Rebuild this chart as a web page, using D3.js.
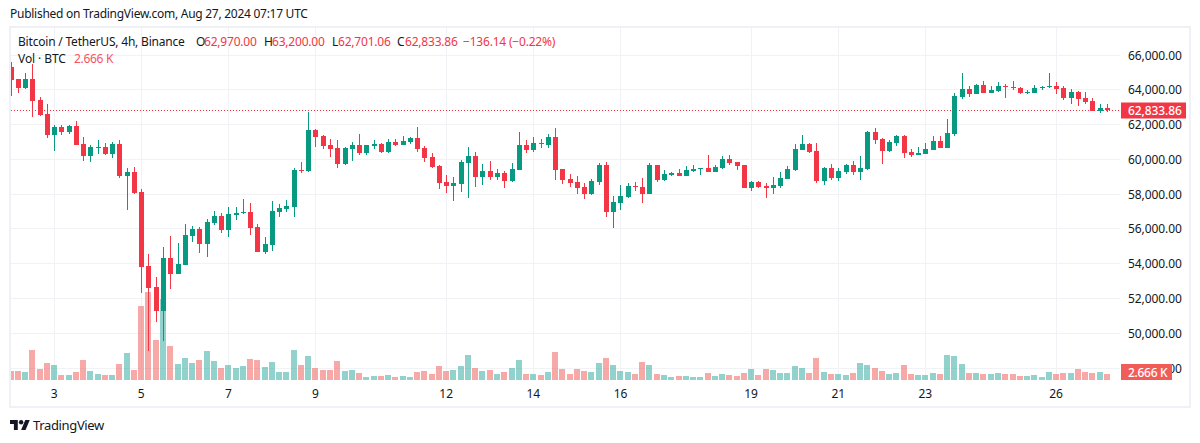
<!DOCTYPE html>
<html>
<head>
<meta charset="utf-8">
<script src="https://cdn.jsdelivr.net/npm/d3@7"></script>
<style>
html,body{margin:0;padding:0;background:#fff;overflow:hidden}
svg{display:block}
text{font-family:"Noto Sans",sans-serif;fill:#131722;font-size:12px;letter-spacing:-0.08px}
</style>
</head>
<body>
<svg id="chart" width="1200" height="443"></svg>
<script>
const highs=[65617,64621,64947,65483,63567,63184,
61958,61958,61977,62207,61268,60827,61115,60923,61000,61115,
59505,59563,58298,54562,53240,54964,55597,55194,56286,56171,
56114,56574,57034,56919,57264,57264,57723,57494,56287,55539,
57608,57436,57666,59505,59850,62724,61747,61402,61172,61115,
60712,61000,61460,60827,61115,60942,61172,61172,61345,61287,
61862,60770,60367,59678,59103,58988,59965,60712,60425,59735,
59908,59448,59333,59793,61574,61115,61287,61172,61460,61804,
59448,59160,59046,58644,58873,59793,59851,57896,58529,58644,
58701,58931,59793,59678,59391,59276,59448,59621,59678,59506,
60253,59678,60195,60253,59851,59678,58759,58759,58643,58988,
59275,59620,60885,61402,60942,60942,59563,59735,59505,59735,
59908,60195,61632,61804,61230,61115,61402,61402,60597,60712,
60942,61345,61345,62322,63816,64966,64219,64333,64506,64219,
64448,64333,64506,64161,63989,64276,64219,64966,64448,64219,
64046,63931,63874,63529,63184,63200];
const lows=[63644,63835,64046,62456,62494,61230,
60501,61421,61479,60827,59908,59869,60310,60252,60099,58930,
57091,58011,52320,48986,50653,49561,52550,53413,53930,55252,
54620,54390,56229,55769,55539,56516,56861,55654,54677,54562,
54735,56689,56976,56689,59218,59275,60712,60597,60138,59505,
59678,59908,60253,60253,60597,60368,60368,60770,60827,60885,
60425,59850,59505,58298,58068,57608,58126,57781,58413,58528,
58815,58815,58356,58700,59390,60367,60425,60655,60655,58815,
58586,58413,58011,57724,57954,58529,56689,56057,57092,57781,
58184,57494,58011,58701,58758,59046,59046,59046,59276,59103,
59276,59276,59448,59678,59391,58356,58184,58356,57781,58011,
58356,58873,59333,60540,60367,58643,58528,58815,58758,59160,
59103,58815,59390,60885,59735,60425,60770,60080,60137,60252,
60310,60540,60655,60655,61345,63471,63586,63759,63816,63816,
63874,63529,63989,63759,63759,63816,63989,64104,63759,63414,
63184,63069,63184,62781,62666,62701.06];
const opens=[65330,64621,64123,64621,63414,62609,
61421,61862,61574,61919,60885,60195,60655,60712,60310,60885,
59045,59275,58126,53872,52665,51285,54332,53413,53930,55597,
55999,55137,56344,56746,55942,56804,56919,56976,56114,54677,
55079,56976,57149,57264,59390,59333,61690,61345,60827,60655,
59735,60597,60827,60368,60770,60885,60425,61000,60827,61000,
61230,60655,60137,59620,58700,58470,58586,59793,60195,58988,
59333,58988,59218,58758,59390,60827,60540,60942,60827,61287,
59448,58873,58701,58414,58011,58701,59678,56977,57494,57839,
58471,58414,58011,59678,58816,59103,59218,59046,59333,59448,
59506,59276,59506,60023,59851,59678,58356,58701,58470,58356,
58470,58873,59390,60540,60885,60482,58758,59505,58930,59275,
59678,59275,59448,61574,61172,60482,60942,61345,60425,60252,
60310,60540,61057,60655,61460,63586,64046,63759,64276,63816,
63931,64219,64161,64104,63816,63816,64104,64161,64219,64104,
63529,63874,63529,63356,62781,62970];
const closes=[64563,64123,64621,63376,62552,61421,
61862,61574,61919,60827,60195,60712,60712,60310,60885,59045,
59275,58068,53815,52608,51285,54332,53413,53987,55654,55999,
55137,56402,56746,55942,56861,56919,56976,56057,54677,55137,
57034,57206,57321,59390,59333,61690,61287,60770,60597,59735,
60655,60827,60368,60827,60885,60425,61000,60827,61057,61230,
60597,60080,59563,58643,58470,58643,59850,60195,58988,59333,
58988,59218,58758,59448,60827,60540,60942,60885,61287,59390,
58815,58643,58356,58011,58758,59678,56977,57551,57896,58471,
58414,58011,59678,58816,59161,59218,59046,59391,59448,59506,
59276,59563,60023,59793,59621,58356,58701,58414,58356,58528,
58930,59448,60597,60885,60425,58758,59505,58930,59333,59678,
59275,59505,61574,61115,60482,61000,61345,60367,60252,60367,
60597,61057,60655,61517,63644,64046,63759,64276,63816,63989,
64219,64161,64104,63816,63874,64104,64161,64219,64046,63529,
63874,63471,63299,62781,62954,62833.86];
const volumes=[4.0,4.0,3.55,13.33,4.89,7.55,
6.66,2.22,2.22,3.55,8.89,4.0,2.67,2.22,2.22,7.11,
12.0,4.44,32.9,39.1,17.8,36.0,15.1,7.11,9.78,7.55,
8.89,12.9,8.44,5.33,6.66,5.33,6.22,9.33,8.89,5.78,
8.0,3.55,3.55,13.33,6.66,10.66,5.33,4.44,4.44,8.44,
4.0,4.44,3.11,1.33,1.78,1.78,2.22,1.33,1.78,1.33,
3.55,4.0,2.67,6.22,4.0,4.44,6.22,11.1,5.33,4.0,
4.44,2.67,3.55,5.33,8.89,2.67,2.67,2.22,3.55,12.44,
4.89,2.67,4.89,4.0,3.55,7.55,9.78,6.66,4.0,3.55,
2.67,8.0,6.66,2.67,2.22,1.33,1.78,1.78,1.33,1.33,
3.11,1.78,2.67,2.22,1.78,3.11,4.89,2.22,4.89,4.44,
3.11,3.11,6.22,5.33,3.11,9.78,3.55,2.67,2.67,2.22,
3.11,7.55,6.66,5.33,4.0,2.67,3.11,6.66,2.67,2.22,
2.22,3.11,2.67,11.1,10.66,7.11,3.11,3.11,2.67,2.67,
3.11,2.67,2.67,1.78,1.78,2.22,1.33,3.55,2.67,3.11,
3.11,4.89,3.55,3.11,3.55,2.666];
const dayLabels=["3","5","7","9","12","14","16","19","21","23","26"];
const dayBars=[6,18,30,42,60,72,84,102,114,126,144];
const priceTicks=[48000,50000,52000,54000,56000,58000,60000,62000,64000,66000];
const lastPrice=62833.86;
const lastVolume=2.666;

const UP="#089981",DOWN="#F23645",GRID="#F1F2F5",FRAME="#F0F1F7",TXT="#131722";
const svg=d3.select("#chart");
const x=d3.scaleLinear().domain([6,144]).range([54.07,1056.07]);
const y=d3.scaleLinear().domain([48000,66000]).range([368,55]);
const yv=d3.scaleLinear().domain([0,40]).range([380,290]);
const n=closes.length, idx=d3.range(n);
const fmt=d3.format(",.2f");
const isUp=i=>closes[i]>=opens[i];

svg.append("defs").append("clipPath").attr("id","pane").append("rect")
  .attr("x",11).attr("y",28).attr("width",1109).attr("height",352);

svg.append("text").attr("x",10).attr("y",18).style("letter-spacing","-0.27px")
  .text("Published on TradingView.com, Aug 27, 2024 07:17 UTC");

// frame
svg.append("rect").attr("x",10).attr("y",27).attr("width",1180).attr("height",380)
  .attr("fill","none").attr("stroke",FRAME).attr("stroke-width",2);

// grid built from the scales
const grid=svg.append("g").attr("shape-rendering","crispEdges").attr("stroke",GRID);
grid.selectAll(".h").data(priceTicks).join("line")
  .attr("x1",11).attr("x2",1120)
  .attr("y1",d=>Math.floor(y(d))+.5).attr("y2",d=>Math.floor(y(d))+.5);
grid.selectAll(".v").data(dayBars).join("line")
  .attr("y1",28).attr("y2",380)
  .attr("x1",d=>Math.round(x(d))+.5).attr("x2",d=>Math.round(x(d))+.5);

const pane=svg.append("g").attr("clip-path","url(#pane)");
// volume
pane.append("g").attr("shape-rendering","crispEdges").selectAll("rect").data(idx).join("rect")
  .attr("x",i=>Math.round(x(i))-3).attr("width",6)
  .attr("y",i=>Math.round(yv(volumes[i])))
  .attr("height",i=>380-Math.round(yv(volumes[i])))
  .attr("fill",i=>isUp(i)?"rgba(38,166,154,0.5)":"rgba(239,83,80,0.5)");

// last price line
pane.append("line").attr("x1",11).attr("x2",1120)
  .attr("y1",Math.round(y(lastPrice))+.5).attr("y2",Math.round(y(lastPrice))+.5)
  .attr("stroke",DOWN).attr("stroke-dasharray","1 2");

// candles
const c=pane.append("g").attr("shape-rendering","crispEdges");
c.selectAll(".w").data(idx).join("line")
  .attr("x1",i=>Math.round(x(i))+.5).attr("x2",i=>Math.round(x(i))+.5)
  .attr("y1",i=>Math.round(y(highs[i]))).attr("y2",i=>Math.round(y(lows[i])))
  .attr("stroke",i=>isUp(i)?UP:DOWN);
c.selectAll(".b").data(idx).join("rect")
  .attr("x",i=>Math.round(x(i))-2).attr("width",5)
  .attr("y",i=>Math.round(y(Math.max(opens[i],closes[i]))))
  .attr("height",i=>Math.max(1,Math.round(y(Math.min(opens[i],closes[i])))-Math.round(y(Math.max(opens[i],closes[i])))))
  .attr("fill",i=>isUp(i)?UP:DOWN);

// axes labels
svg.append("g").selectAll("text").data(priceTicks).join("text")
  .attr("x",1128).attr("y",d=>y(d)+4.5).text(d=>fmt(d));
svg.append("g").selectAll("text").data(dayBars).join("text")
  .attr("x",d=>x(d)).attr("y",398).attr("text-anchor","middle")
  .text((d,i)=>dayLabels[i]);

// last value tags
const py=Math.round(y(lastPrice))+.5;
svg.append("rect").attr("x",1121).attr("y",py-8).attr("width",65).attr("height",16).attr("fill",DOWN);
svg.append("text").attr("x",1128).attr("y",py+4.5).style("fill","#fff").attr("font-weight",500).text(fmt(lastPrice));
svg.append("rect").attr("x",1121).attr("y",364).attr("width",51).attr("height",16).attr("fill","#F25C58");
svg.append("text").attr("x",1128).attr("y",376.5).style("fill","#fff").style("letter-spacing","-0.3px").attr("font-weight",500).text(lastVolume.toFixed(3)+" K");

// legend
const leg=[["Bitcoin / TetherUS, 4h, Binance",18,TXT],["O",196,TXT],[fmt(opens[n-1]),204,DOWN],
["H",264,TXT],[fmt(highs[n-1]),272,DOWN],["L",332,TXT],[fmt(lows[n-1]),338,DOWN],
["C",397,TXT],[fmt(closes[n-1]),405,DOWN],["\u2212136.14 (\u22120.22%)",463,DOWN],
];
svg.append("g").selectAll("text").data(leg).join("text")
  .attr("x",d=>d[1]).attr("y",46).style("letter-spacing","-0.2px").style("fill",d=>d[2]).text(d=>d[0]);
svg.append("text").attr("x",18).attr("y",63).text("Vol \u00b7 BTC");
svg.append("text").attr("x",74).attr("y",63).style("fill","#F7525F").style("letter-spacing","-0.3px").text(lastVolume.toFixed(3)+" K");

// footer
const logo=svg.append("g").attr("transform","translate(10,417.8) scale(.556)").attr("fill",TXT);
logo.append("path").attr("d","M14 22H7V11H0V4h14v18zM28 22h-8l7.5-18h8L28 22z");
logo.append("circle").attr("cx",20).attr("cy",8).attr("r",4);
svg.append("text").attr("x",33).attr("y",430).style("font-size","13px").style("letter-spacing","-0.35px").text("TradingView");
</script>
</body>
</html>
